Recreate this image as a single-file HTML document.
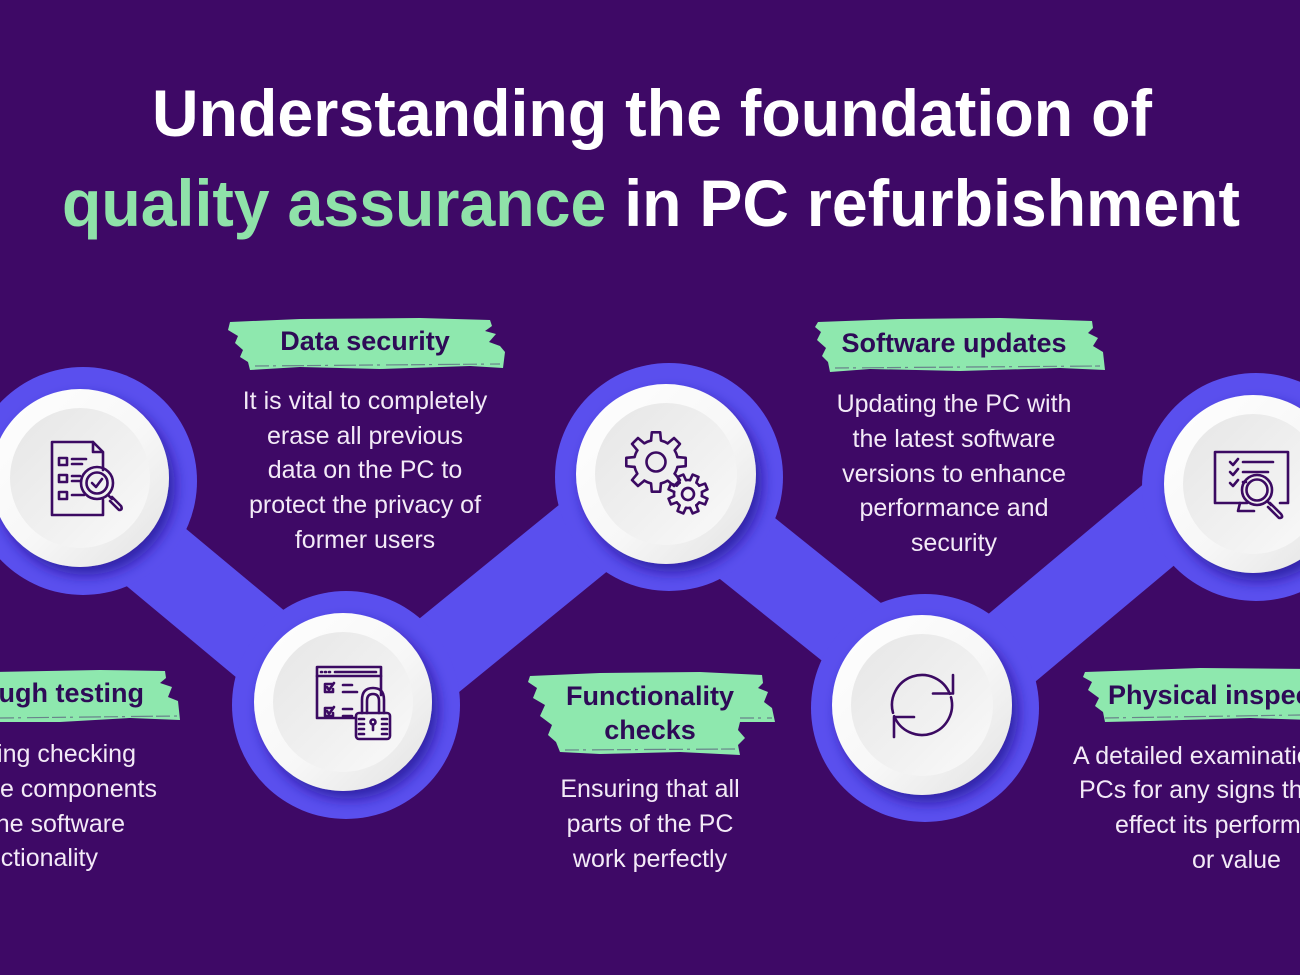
<!DOCTYPE html>
<html>
<head>
<meta charset="utf-8">
<style>
  html,body{margin:0;padding:0;background:#3e0966;}
  svg{display:block;}
  .t{font-family:"Liberation Sans",Arial,sans-serif;}
  .body{font-family:"Liberation Sans",Arial,sans-serif;font-size:25px;fill:#f3eaf7;}
  .lab{font-family:"Liberation Sans",Arial,sans-serif;font-size:27px;font-weight:bold;fill:#2e0a57;}
  .ic{fill:none;stroke:#3b0a62;stroke-width:2.6;stroke-linecap:round;stroke-linejoin:round;}
</style>
</head>
<body>
<svg width="1300" height="975" viewBox="0 0 1300 975" xmlns="http://www.w3.org/2000/svg">
  <defs>
    <filter id="sh" x="-30%" y="-30%" width="170%" height="170%">
      <feDropShadow dx="6" dy="8" stdDeviation="7" flood-color="#24138f" flood-opacity="0.75"/>
    </filter>
    <linearGradient id="rim" x1="0" y1="0" x2="1" y2="1">
      <stop offset="0" stop-color="#ffffff"/>
      <stop offset="0.55" stop-color="#f7f7f7"/>
      <stop offset="1" stop-color="#e2e2e2"/>
    </linearGradient>
    <linearGradient id="inner" x1="0" y1="0" x2="1" y2="1">
      <stop offset="0" stop-color="#e6e6e6"/>
      <stop offset="0.6" stop-color="#f1f1f1"/>
      <stop offset="1" stop-color="#fafafa"/>
    </linearGradient>
  </defs>

  <rect width="1300" height="975" fill="#3e0966"/>

  <!-- Title -->
  <text class="t" x="152" y="136" font-size="66" font-weight="bold" fill="#ffffff" textLength="1000" lengthAdjust="spacingAndGlyphs">Understanding the foundation of</text>
  <text class="t" x="62" y="226" font-size="66" font-weight="bold" fill="#ffffff" textLength="1178" lengthAdjust="spacingAndGlyphs"><tspan fill="#8fe2a9">quality assurance</tspan> in PC refurbishment</text>

  <!-- Bands -->
  <g stroke="#5a4fee" stroke-width="82" stroke-linecap="butt">
    <line x1="8" y1="434" x2="354" y2="722"/>
    <line x1="334" y1="741" x2="652" y2="482"/>
    <line x1="632" y1="456" x2="944" y2="706"/>
    <line x1="903" y1="739" x2="1248" y2="450"/>
  </g>

  <!-- Blue discs -->
  <g fill="#5a4fee">
    <circle cx="83" cy="481" r="114"/>
    <circle cx="346" cy="705" r="114"/>
    <circle cx="669" cy="477" r="114"/>
    <circle cx="925" cy="708" r="114"/>
    <circle cx="1256" cy="487" r="114"/>
  </g>

  <!-- White circles -->
  <g>
    <circle cx="80" cy="478" r="89" fill="url(#rim)" filter="url(#sh)"/>
    <circle cx="80" cy="478" r="70" fill="url(#inner)"/>
    <circle cx="343" cy="702" r="89" fill="url(#rim)" filter="url(#sh)"/>
    <circle cx="343" cy="702" r="70" fill="url(#inner)"/>
    <circle cx="666" cy="474" r="90" fill="url(#rim)" filter="url(#sh)"/>
    <circle cx="666" cy="474" r="71" fill="url(#inner)"/>
    <circle cx="922" cy="705" r="90" fill="url(#rim)" filter="url(#sh)"/>
    <circle cx="922" cy="705" r="71" fill="url(#inner)"/>
    <circle cx="1253" cy="484" r="89" fill="url(#rim)" filter="url(#sh)"/>
    <circle cx="1253" cy="484" r="70" fill="url(#inner)"/>
  </g>

  <!-- Icon 1: document + magnifier -->
  <g class="ic">
    <path d="M93,442 L52,442 L52,515 L103,515 L103,500"/>
    <path d="M103,470 L103,452 L93,442 L93,452 L103,452"/>
    <rect x="59" y="458" width="8" height="7"/>
    <rect x="59" y="475" width="8" height="7"/>
    <rect x="59" y="492" width="8" height="7"/>
    <line x1="72" y1="459" x2="86" y2="459"/>
    <line x1="72" y1="464" x2="82" y2="464"/>
    <line x1="72" y1="476" x2="80" y2="476"/>
    <line x1="72" y1="481" x2="80" y2="481"/>
    <line x1="72" y1="495" x2="84" y2="495"/>
    <circle cx="97" cy="483" r="16"/>
    <circle cx="97" cy="483" r="10.5"/>
    <path d="M92,483 L96,487 L102,479"/>
    <path d="M108,495 L112,499"/>
    <path d="M112,497 L121,506 Q123,510 119,510 L110,501" />
  </g>

  <!-- Icon 2: window + lock -->
  <g class="ic">
    <path d="M356,718 L317,718 L317,667 L381,667 L381,695"/>
    <line x1="317" y1="676" x2="381" y2="676"/>
    <line x1="321" y1="672" x2="322" y2="672"/>
    <line x1="325" y1="672" x2="326" y2="672"/>
    <line x1="329" y1="672" x2="330" y2="672"/>
    <line x1="335" y1="672" x2="376" y2="672"/>
    <path d="M333,684 L325,684 L325,692 L333,692 L333,689"/>
    <path d="M327,687 L329,690 L334,683"/>
    <line x1="343" y1="685" x2="352" y2="685"/>
    <line x1="343" y1="692" x2="357" y2="692"/>
    <path d="M333,708 L325,708 L325,716 L333,716 L333,713"/>
    <path d="M327,711 L329,714 L334,707"/>
    <line x1="343" y1="709" x2="352" y2="709"/>
    <line x1="343" y1="716" x2="352" y2="716"/>
    <path d="M362,713 L362,700 Q362,688 373,688 Q384,688 384,700 L384,713"/>
    <path d="M367,713 L367,701 Q367,694 373,694 Q379,694 379,701 L379,713"/>
    <rect x="356" y="713" width="34" height="26" rx="3"/>
    <line x1="359" y1="719" x2="364" y2="719"/>
    <line x1="359" y1="724" x2="364" y2="724"/>
    <line x1="359" y1="729" x2="364" y2="729"/>
    <line x1="359" y1="734" x2="364" y2="734"/>
    <line x1="382" y1="719" x2="387" y2="719"/>
    <line x1="382" y1="724" x2="387" y2="724"/>
    <line x1="382" y1="729" x2="387" y2="729"/>
    <line x1="382" y1="734" x2="387" y2="734"/>
    <circle cx="373" cy="722" r="2.5"/>
    <line x1="373" y1="725" x2="373" y2="730"/>
  </g>

  <!-- Icon 3: gears -->
  <g class="ic" transform="translate(656,462)">
    <path d="M21.44,-4.95 L29.71,-4.18 L29.71,4.18 L21.44,4.95 A22,22 0 0 1 18.66,11.66"/>
    <path transform="rotate(45)" d="M21.44,-4.95 L29.71,-4.18 L29.71,4.18 L21.44,4.95 A22,22 0 0 1 18.66,11.66"/>
    <path transform="rotate(90)" d="M21.44,-4.95 L29.71,-4.18 L29.71,4.18 L21.44,4.95 A22,22 0 0 1 18.66,11.66"/>
    <path transform="rotate(135)" d="M21.44,-4.95 L29.71,-4.18 L29.71,4.18 L21.44,4.95 A22,22 0 0 1 18.66,11.66"/>
    <path transform="rotate(180)" d="M21.44,-4.95 L29.71,-4.18 L29.71,4.18 L21.44,4.95 A22,22 0 0 1 18.66,11.66"/>
    <path transform="rotate(225)" d="M21.44,-4.95 L29.71,-4.18 L29.71,4.18 L21.44,4.95 A22,22 0 0 1 18.66,11.66"/>
    <path transform="rotate(270)" d="M21.44,-4.95 L29.71,-4.18 L29.71,4.18 L21.44,4.95 A22,22 0 0 1 18.66,11.66"/>
    <path transform="rotate(315)" d="M21.44,-4.95 L29.71,-4.18 L29.71,4.18 L21.44,4.95 A22,22 0 0 1 18.66,11.66"/>
    <circle cx="0" cy="0" r="9.5"/>
  </g>
  <g class="ic" transform="translate(688,494) rotate(22.5)">
    <path d="M13.58,-3.39 L19.75,-3.13 L19.75,3.13 L13.58,3.39 A14,14 0 0 1 12.0,7.21"/>
    <path transform="rotate(45)" d="M13.58,-3.39 L19.75,-3.13 L19.75,3.13 L13.58,3.39 A14,14 0 0 1 12.0,7.21"/>
    <path transform="rotate(90)" d="M13.58,-3.39 L19.75,-3.13 L19.75,3.13 L13.58,3.39 A14,14 0 0 1 12.0,7.21"/>
    <path transform="rotate(135)" d="M13.58,-3.39 L19.75,-3.13 L19.75,3.13 L13.58,3.39 A14,14 0 0 1 12.0,7.21"/>
    <path transform="rotate(180)" d="M13.58,-3.39 L19.75,-3.13 L19.75,3.13 L13.58,3.39 A14,14 0 0 1 12.0,7.21"/>
    <path transform="rotate(225)" d="M13.58,-3.39 L19.75,-3.13 L19.75,3.13 L13.58,3.39 A14,14 0 0 1 12.0,7.21"/>
    <path transform="rotate(270)" d="M13.58,-3.39 L19.75,-3.13 L19.75,3.13 L13.58,3.39 A14,14 0 0 1 12.0,7.21"/>
    <path transform="rotate(315)" d="M13.58,-3.39 L19.75,-3.13 L19.75,3.13 L13.58,3.39 A14,14 0 0 1 12.0,7.21"/>
    <circle cx="0" cy="0" r="6"/>
  </g>

  <!-- Icon 4: refresh -->
  <g class="ic">
    <path d="M893,712.8 A30,30 0 0 1 949.8,693.8"/>
    <path d="M953,675 L953,693.5 L933,693.5"/>
    <path d="M951,697.2 A30,30 0 0 1 894.2,716.2"/>
    <path d="M894,737 L894,717 L914,717"/>
  </g>

  <!-- Icon 5: monitor + magnifier -->
  <g class="ic">
    <path d="M1247,503 L1215,503 L1215,452 L1288,452 L1288,503 L1280,503"/>
    <path d="M1240,503 L1238,511 L1254,511"/>
    <path d="M1230,462 L1233,465 L1238,459"/>
    <path d="M1230,472 L1233,475 L1238,469"/>
    <path d="M1230,483 L1233,486 L1238,480"/>
    <line x1="1243" y1="462" x2="1273" y2="462"/>
    <line x1="1243" y1="472" x2="1268" y2="472"/>
    <line x1="1243" y1="482" x2="1246" y2="482"/>
    <circle cx="1257" cy="490" r="15"/>
    <circle cx="1257" cy="490" r="10.5"/>
    <path d="M1267,501 L1271,505"/>
    <path d="M1270,503 L1281,514 Q1284,518 1279,518 L1268,507"/>
  </g>

  <!-- Labels (brush strokes) -->
  <g fill="#8ee8ae">
    <polygon points="230,322 300,319 420,318 490,320 492,326 485,331 496,334 489,342 500,346 505,352 503,368 470,366 380,369 300,367 250,370 248,362 240,357 243,350 235,343 238,336 228,330"/>
    <polygon points="818,322 900,319 1000,318 1092,321 1093,328 1088,333 1098,338 1093,346 1103,352 1105,370 1060,368 960,371 870,369 830,372 828,362 822,356 826,348 817,340 821,332 815,327"/>
    <polygon points="530,676 600,673 700,672 762,675 763,683 758,688 768,692 764,702 772,708 775,722 740,722 738,730 745,738 738,745 740,755 680,752 600,754 560,752 556,742 548,735 552,725 540,716 545,705 533,698 537,688 528,682"/>
    <polygon points="-10,672 100,670 165,671 166,678 160,683 172,687 168,697 178,701 180,720 130,718 60,722 -10,722"/>
    <polygon points="1085,672 1200,668 1310,669 1310,720 1250,718 1150,721 1105,722 1103,712 1095,706 1099,698 1088,690 1092,682 1083,677"/>
  </g>
  <g stroke="#3b0a62" stroke-width="1.2" stroke-opacity="0.45" stroke-dasharray="14 4 3 6 22 3" fill="none">
    <line x1="255" y1="366" x2="500" y2="364"/>
    <line x1="835" y1="368" x2="1100" y2="366"/>
    <line x1="565" y1="750" x2="735" y2="749"/>
    <line x1="740" y1="718" x2="772" y2="718"/>
    <line x1="0" y1="718" x2="178" y2="716"/>
    <line x1="1105" y1="718" x2="1300" y2="715"/>
  </g>

  <text class="lab" x="365" y="350" text-anchor="middle">Data security</text>
  <text class="lab" x="954" y="352" text-anchor="middle">Software updates</text>
  <text class="lab" x="650" y="705" text-anchor="middle">Functionality</text>
  <text class="lab" x="650" y="739" text-anchor="middle">checks</text>
  <text class="lab" x="144" y="702" text-anchor="end">Thorough testing</text>
  <text class="lab" x="1108" y="704">Physical inspection</text>

  <!-- Body texts -->
  <g class="body" text-anchor="middle">
    <text x="365" y="409">It is vital to completely</text>
    <text x="365" y="444">erase all previous</text>
    <text x="365" y="478">data on the PC to</text>
    <text x="365" y="513">protect the privacy of</text>
    <text x="365" y="548">former users</text>

    <text x="954" y="412">Updating the PC with</text>
    <text x="954" y="447">the latest software</text>
    <text x="954" y="482">versions to enhance</text>
    <text x="954" y="516">performance and</text>
    <text x="954" y="551">security</text>

    <text x="650" y="797">Ensuring that all</text>
    <text x="650" y="832">parts of the PC</text>
    <text x="650" y="867">work perfectly</text>
  </g>
  <g class="body" text-anchor="end">
    <text x="136" y="762">Involving checking</text>
    <text x="157" y="797">the hardware components</text>
    <text x="125" y="832">and the software</text>
    <text x="98" y="866">functionality</text>
  </g>
  <g class="body">
    <text x="1073" y="764">A detailed examination of</text>
    <text x="1079" y="798">PCs for any signs that may</text>
    <text x="1115" y="833">effect its performance</text>
    <text x="1192" y="868">or value</text>
  </g>
</svg>
</body>
</html>
